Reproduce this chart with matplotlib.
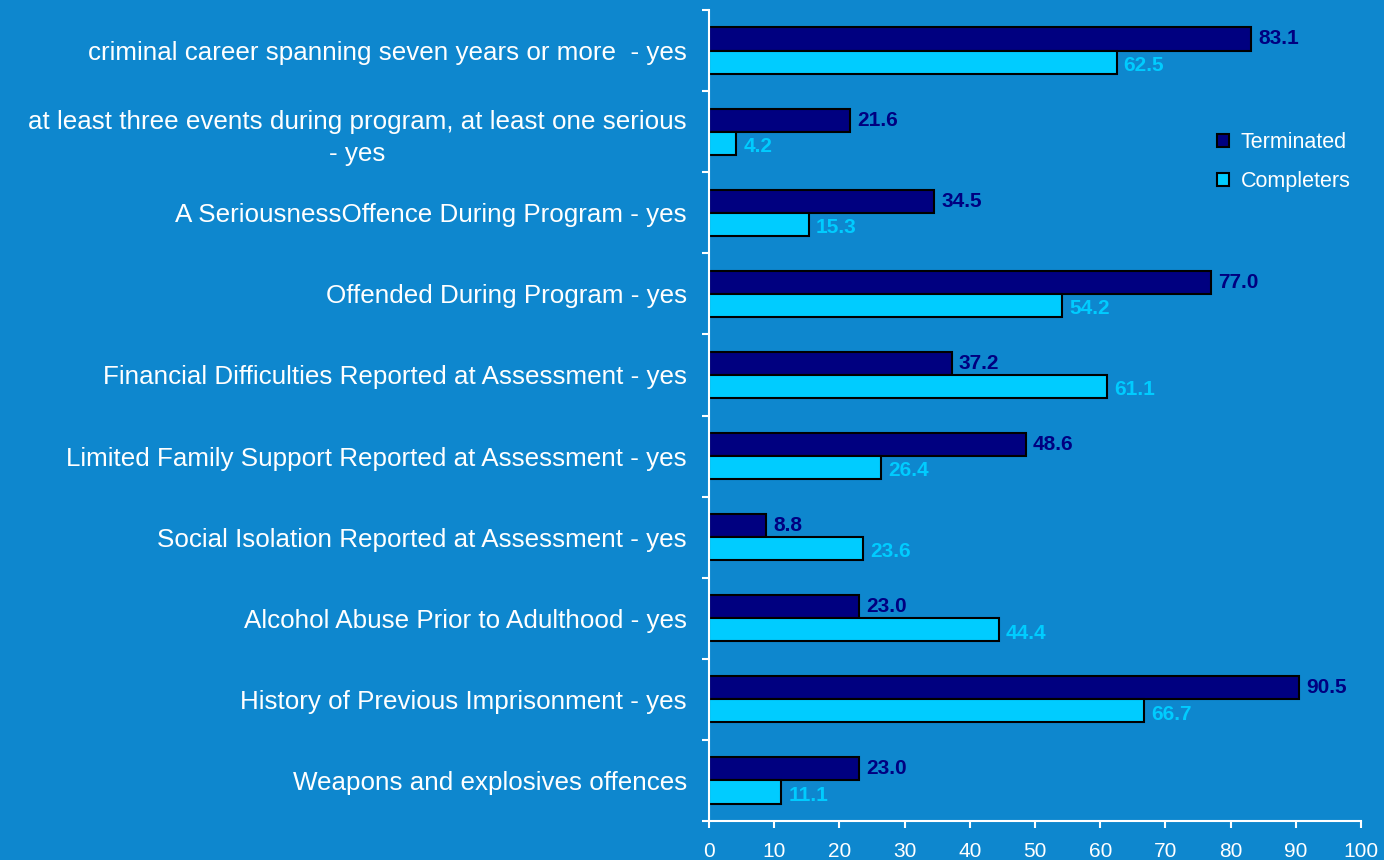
import matplotlib.pyplot as plt
import numpy as np

plt.rcParams['font.family'] = ['Liberation Sans', 'DejaVu Sans']

categories = [
    'criminal career spanning seven years or more  - yes',
    'at least three events during program, at least one serious\n- yes',
    'A SeriousnessOffence During Program - yes',
    'Offended During Program - yes',
    'Financial Difficulties Reported at Assessment - yes',
    'Limited Family Support Reported at Assessment - yes',
    'Social Isolation Reported at Assessment - yes',
    'Alcohol Abuse Prior to Adulthood - yes',
    'History of Previous Imprisonment - yes',
    'Weapons and explosives offences',
]
terminated = [83.1, 21.6, 34.5, 77.0, 37.2, 48.6, 8.8, 23.0, 90.5, 23.0]
completers = [62.5, 4.2, 15.3, 54.2, 61.1, 26.4, 23.6, 44.4, 66.7, 11.1]

bg = '#0E87CE'
dark = '#000080'
light = '#00CCFF'

fig = plt.figure(figsize=(13.84, 8.6), dpi=100, facecolor=bg)
ax = fig.add_axes([0.5123, 0.0453, 0.4711, 0.9431], facecolor=bg)

y = np.arange(len(categories))
h = 0.285
ax.barh(y - h / 2, terminated, height=h, color=dark, edgecolor='black', linewidth=1.5, label='Terminated')
ax.barh(y + h / 2, completers, height=h, color=light, edgecolor='black', linewidth=1.5, label='Completers')

for i in range(len(categories)):
    ax.text(terminated[i] + 1.1, y[i] - h / 2, '%.1f' % terminated[i], color=dark,
            fontsize=15, fontweight='bold', va='center', ha='left')
    ax.text(completers[i] + 1.1, y[i] + h / 2 + 0.04, '%.1f' % completers[i], color=light,
            fontsize=15, fontweight='bold', va='center', ha='left')

ax.set_xlim(0, 100)
ax.set_ylim(len(categories) - 0.5, -0.5)
ax.set_xticks(range(0, 101, 10))
ax.set_yticks(np.arange(-0.5, len(categories), 1.0))
ax.set_yticklabels([])
ax.set_yticks(y, minor=True)
ax.set_yticklabels(categories, minor=True, ha='right', multialignment='center',
                   fontsize=18.7, color='white', linespacing=1.4)
ax.tick_params(axis='y', which='minor', length=0, pad=16)
ax.tick_params(axis='y', which='major', length=5, width=1.5, color='white')
ax.tick_params(axis='x', length=5, width=1.5, color='white', labelcolor='white',
               labelsize=15, pad=10)

for s in ['top', 'right']:
    ax.spines[s].set_visible(False)
for s in ['left', 'bottom']:
    ax.spines[s].set_color('white')
    ax.spines[s].set_linewidth(1.5)

leg = ax.legend(loc='center left', bbox_to_anchor=(0.8715, 0.8116),
                bbox_transform=fig.transFigure, frameon=False, borderpad=0,
                fontsize=15.5, labelcolor='white', handlelength=0.55, handleheight=0.55,
                handletextpad=0.55, labelspacing=0.85)

plt.savefig('out.png', dpi=100, facecolor=bg)
